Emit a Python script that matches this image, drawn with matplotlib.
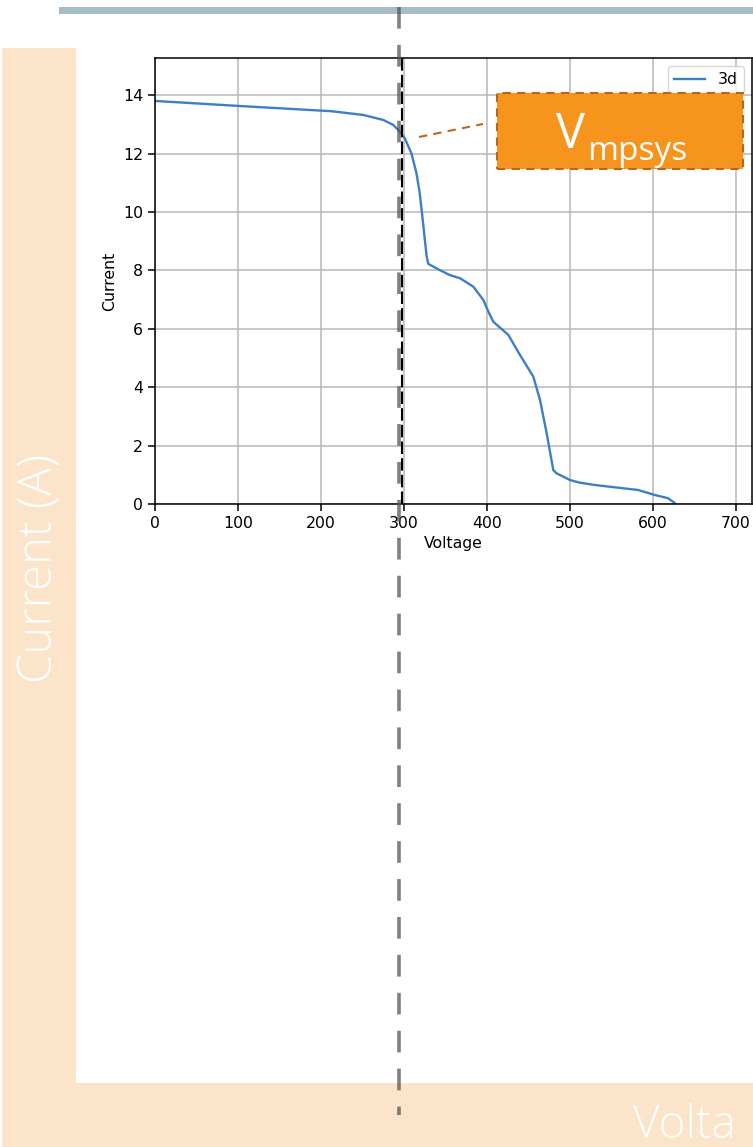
import matplotlib
matplotlib.use("Agg")
import matplotlib.pyplot as plt
from matplotlib.patches import Rectangle
from matplotlib.lines import Line2D

W, H = 753, 1147

# I-V curve of the string
voltage = [0, 100, 199, 212, 251, 275, 287, 295, 301, 309, 315, 319, 323,
           327.3, 329.3, 343, 355, 367.5, 383.5, 395.5, 401.6, 407.6, 425.7,
           439.8, 455.8, 463.9, 471.9, 479.9, 483.9, 500, 512, 530, 582, 602,
           618, 625.5, 627]
current = [13.8, 13.63, 13.47, 13.45, 13.32, 13.15, 12.98, 12.75, 12.52, 12.0,
           11.33, 10.64, 9.61, 8.47, 8.22, 8.01, 7.84, 7.73, 7.44, 6.99, 6.59,
           6.24, 5.79, 5.1, 4.36, 3.56, 2.42, 1.16, 1.05, 0.82, 0.73, 0.65,
           0.48, 0.31, 0.2, 0.05, 0.0]
series_name = "3d"
v_mp = 298
x_ticks = [0, 100, 200, 300, 400, 500, 600, 700]
y_ticks = [0, 2, 4, 6, 8, 10, 12, 14]

PEACH = "#fce4ca"
ORANGE = "#f7941d"
BROWN = "#b9661b"


def fx(x):
    return x / W


def fy(y):
    return 1 - y / H


fig = plt.figure(figsize=(W / 100, H / 100), dpi=100)
fig.patch.set_facecolor("white")

# background decoration
fig.add_artist(Rectangle((fx(59), fy(14)), fx(W - 59), 7 / H,
                         color="#a8bcc8", lw=0, zorder=0))
fig.add_artist(Rectangle((fx(2), fy(1083)), fx(74), (1083 - 48) / H,
                         color=PEACH, lw=0, zorder=0))
fig.add_artist(Rectangle((fx(2), fy(1147)), fx(W - 2), (1147 - 1083) / H,
                         color=PEACH, lw=0, zorder=0))
fig.text(fx(40), fy(568), "Current (A)", rotation=90, ha="center", va="center",
         color="white", fontsize=34, family="Open Sans", fontweight="light")
# only the start of the axis title is visible in the frame
fig.text(fx(633), fy(1138), "Volta", ha="left", va="baseline",
         color="white", fontsize=33, family="Open Sans", fontweight="light")

# embedded plot
ax = fig.add_axes([fx(155), fy(504), fx(752 - 155), (504 - 58) / H])
ax.plot(voltage, current, color="#3b80c6", lw=1.7, label=series_name)
ax.axvline(v_mp, color="black", ls=(0, (6, 2)), lw=1.5)
ax.set_xlim(0, 719.3)
ax.set_ylim(0, 15.27)
ax.set_xticks(x_ticks)
ax.set_yticks(y_ticks)
ax.tick_params(labelsize=11.3, width=1.1, length=5)
ax.set_xlabel("Voltage", fontsize=11.3)
ax.set_ylabel("Current", fontsize=11.3)
ax.grid(True, color="#b8b8b8", lw=1.1)
for s in ax.spines.values():
    s.set_linewidth(1.1)
ax.legend(loc="upper right", fontsize=11.3)

# annotation box
fig.add_artist(Rectangle((fx(497), fy(169)), fx(743 - 497), (169 - 93) / H,
                         facecolor=ORANGE, edgecolor=BROWN, lw=1.5,
                         ls=(0, (4, 3)), zorder=6))
fig.text(fx(556), fy(148), "V", ha="left", va="baseline", color="white",
         fontsize=35, family="Open Sans", zorder=7)
fig.text(fx(587), fy(160), "mpsys", ha="left", va="baseline", color="white",
         fontsize=24, family="Open Sans", zorder=7)
fig.add_artist(Line2D([fx(419), fx(483)], [fy(137), fy(124)], color="#c0661a",
                      lw=1.5, ls=(0, (4, 3)), zorder=6))

# full-height marker line
fig.add_artist(Line2D([fx(399), fx(399)], [fy(7), fy(1115)], color="#555555",
                      alpha=0.75, lw=2.6, ls=(0, (6, 4.5)), zorder=5))

fig.savefig("out.png", dpi=100)
